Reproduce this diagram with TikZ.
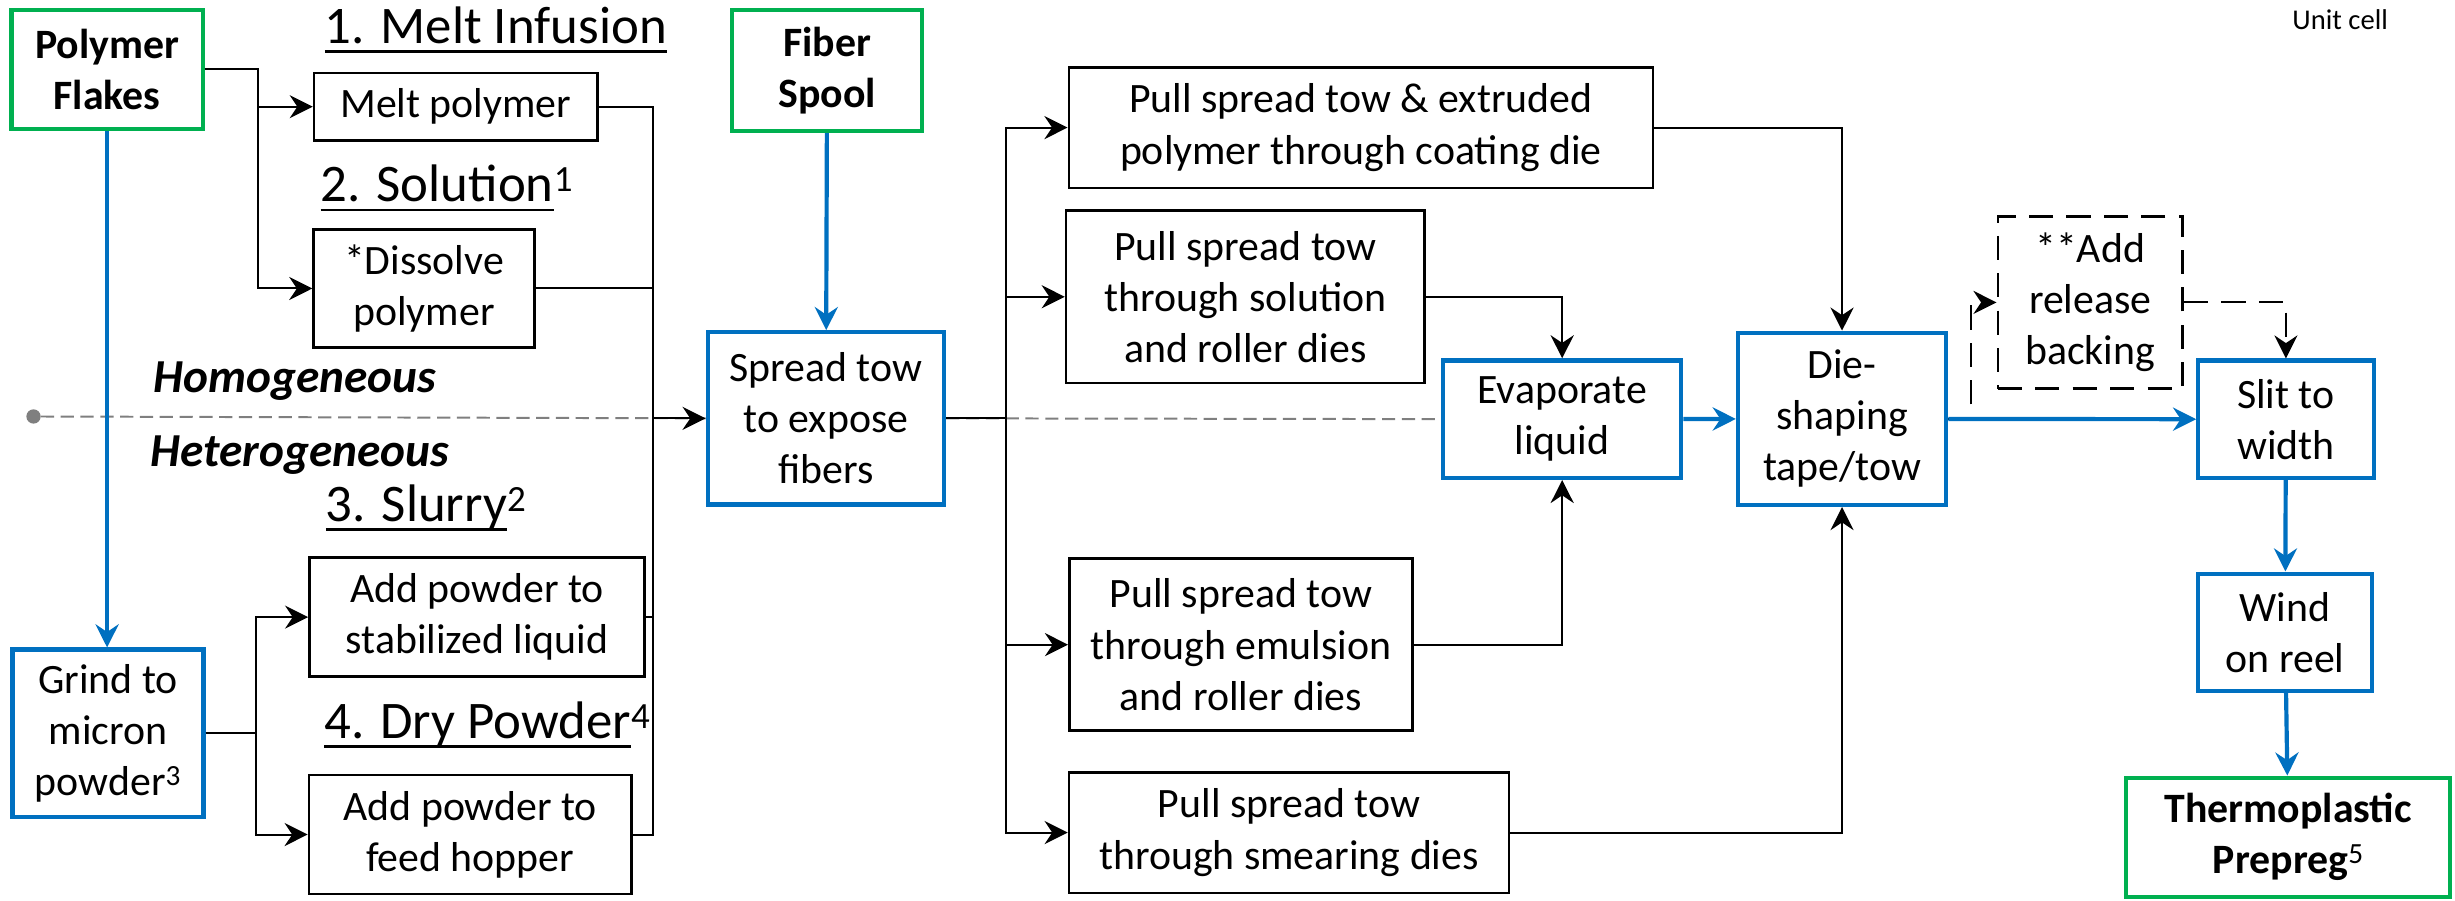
\documentclass[tikz,border=0pt]{standalone}
\usepackage{fontspec}
\setmainfont{Carlito}
\usetikzlibrary{arrows.meta}

\definecolor{flowblue}{HTML}{0070C0}
\definecolor{flowgreen}{HTML}{00B050}
\definecolor{splitgray}{HTML}{7F7F7F}

\newcommand{\boxfont}{\fontsize{38}{46.4}\selectfont}
\newcommand{\headfont}{\fontsize{48}{58}\selectfont}
\newcommand{\hul}[1]{\setbox0\hbox{#1}\rlap{\rule[-8.7pt]{\wd0}{2.4pt}}\box0}

\tikzset{
    sz/.style 2 args={minimum width=#1*0.05cm, minimum height=#2*0.05cm},
    stepbox/.style={draw, line width=2.4pt, inner sep=0pt, align=center, font=\boxfont},
    mainbox/.style={stepbox, draw=flowblue, line width=3.8pt},
    endbox/.style={stepbox, draw=flowgreen, line width=3.8pt, font=\boxfont\bfseries},
    optbox/.style={stepbox, dash pattern=on 22pt off 12pt},
    tip/.style={-{Stealth[length=21pt, width=21pt, inset=7pt]}},
    link/.style={line width=1.8pt},
    feed/.style={link, tip},
    flow/.style={line width=3.8pt, draw=flowblue, tip},
    optflow/.style={feed, dash pattern=on 22pt off 12pt},
    head/.style={anchor=base west, inner sep=0pt, font=\headfont},
    side/.style={anchor=base west, inner sep=0pt, font=\fontsize{43}{50}\selectfont\bfseries\itshape},
    split/.style={draw=splitgray, line width=1.8pt, dash pattern=on 12pt off 6pt},
}

\begin{document}
\begin{tikzpicture}[x=0.05cm, y=-0.05cm]
    \useasboundingbox (0,0) rectangle (1568,575);

    \node[endbox, sz={122}{76}] (pf) at (68.4,44.2) {Polymer\\Flakes};
    \node[stepbox, sz={181}{43}] (melt) at (291.1,68.15) {Melt polymer};
    \node[stepbox, sz={141}{75}] (diss) at (270.8,184.25) {*Dissolve\\polymer};
    \node[stepbox, sz={214}{76}] (stab) at (304.65,394.15) {Add powder to\\stabilized liquid};
    \node[stepbox, sz={206}{76}] (hop) at (300.35,533) {Add powder to\\feed hopper};
    \node[mainbox, sz={122}{107}] (grind) at (69,468.35) {Grind to\\micron\\powder\textsuperscript{3}};
    \node[endbox, sz={121}{77}] (fiber) at (528.25,45.15) {Fiber\\Spool};
    \node[mainbox, sz={151}{110}] (spread) at (527.5,267.2) {Spread tow\\to expose\\fibers};
    \node[stepbox, sz={373}{77}] (coat) at (869.15,81.5) {Pull spread tow \& extruded\\polymer through coating die};
    \node[stepbox, sz={229}{110}] (sol) at (795.4,189.55) {Pull spread tow\\through solution\\and roller dies};
    \node[mainbox, sz={152}{75}] (evap) at (997.75,267.7) {Evaporate\\liquid};
    \node[stepbox, sz={219}{110}] (emul) at (792.5,411.75) {Pull spread tow\\through emulsion\\and roller dies};
    \node[stepbox, sz={281}{77}] (smear) at (823.25,531.75) {Pull spread tow\\through smearing dies};
    \node[mainbox, sz={133}{110}] (die) at (1176.5,267.5) {Die-\\shaping\\tape/tow};
    \node[optbox, sz={118}{110}] (rel) at (1335,193.15) {**Add\\release\\backing};
    \node[mainbox, sz={112}{75}] (slit) at (1460,267.8) {Slit to\\width};
    \node[mainbox, sz={111}{75}] (wind) at (1459.5,403.85) {Wind\\on reel};
    \node[endbox, sz={207}{76}] (thermo) at (1461.5,534.7) {Thermoplastic\\Prepreg\textsuperscript{\mdseries 5}};

    \node[head] (h1) at (207.3,27.7) {\hul{1. Melt Infusion}};
    \node[head] (h2) at (204.7,128.8) {\hul{2. Solution}\textsuperscript{1}};
    \node[head] (h3) at (208,333) {\hul{3. Slurry}\textsuperscript{2}};
    \node[head] (h4) at (207,471.6) {\hul{4. Dry Powder}\textsuperscript{4}};
    \node[side] (homo) at (98,251) {Homogeneous};
    \node[side] (hetero) at (96,298) {Heterogeneous};
    \node[anchor=base west, inner sep=0pt, font=\fontsize{26}{32}\selectfont] (unit) at (1464,18.7) {Unit cell};
    \node[circle, fill=splitgray, inner sep=0pt, minimum size=13pt] (dot) at (21.4,266) {};

    \coordinate (pfx) at (164.5,0);
    \coordinate (gx) at (163.4,0);
    \coordinate (mgx) at (416.8,0);
    \coordinate (spx) at (642.5,0);
    \coordinate (rbx) at (1259,0);

    \draw[split] (dot) -- (spread.west);
    \draw[split] (spread.east) -- (evap.west);

    \draw[feed] (pf.east) -| (pfx |- melt.west) -- (melt.west);
    \draw[feed] (pf.east) -| (pfx |- diss.west) -- (diss.west);
    \draw[feed] (grind.east) -| (gx |- stab.west) -- (stab.west);
    \draw[feed] (grind.east) -| (gx |- hop.west) -- (hop.west);
    \draw[flow] (pf.south) -- (pf.south |- grind.north);

    \draw[link] (melt.east) -| (mgx |- hop.east) -- (hop.east);
    \draw[link] (diss.east) -- (mgx |- diss.east);
    \draw[link] (stab.east) -- (mgx |- stab.east);
    \draw[feed] (mgx |- spread.west) -- (spread.west);
    \draw[flow] (fiber) -- (spread);

    \draw[feed] (spread.east) -| (spx |- coat.west) -- (coat.west);
    \draw[feed] (spread.east) -| (spx |- smear.west) -- (smear.west);
    \draw[feed] (spx |- sol.west) -- (sol.west);
    \draw[feed] (spx |- emul.west) -- (emul.west);

    \draw[feed] (coat.east) -| (die.north);
    \draw[feed] (smear.east) -| (die.south);
    \draw[feed] (sol.east) -| (evap.north);
    \draw[feed] (emul.east) -| (evap.south);
    \draw[flow] (evap) -- (die);

    \draw[optflow] (die.east) -| (rbx |- rel.west) -- (rel.west);
    \draw[optflow] (rel.east) -| (slit.north);
    \draw[flow] (die) -- (slit);
    \draw[flow] (slit) -- (wind);
    \draw[flow] (wind) -- (thermo);
\end{tikzpicture}
\end{document}
